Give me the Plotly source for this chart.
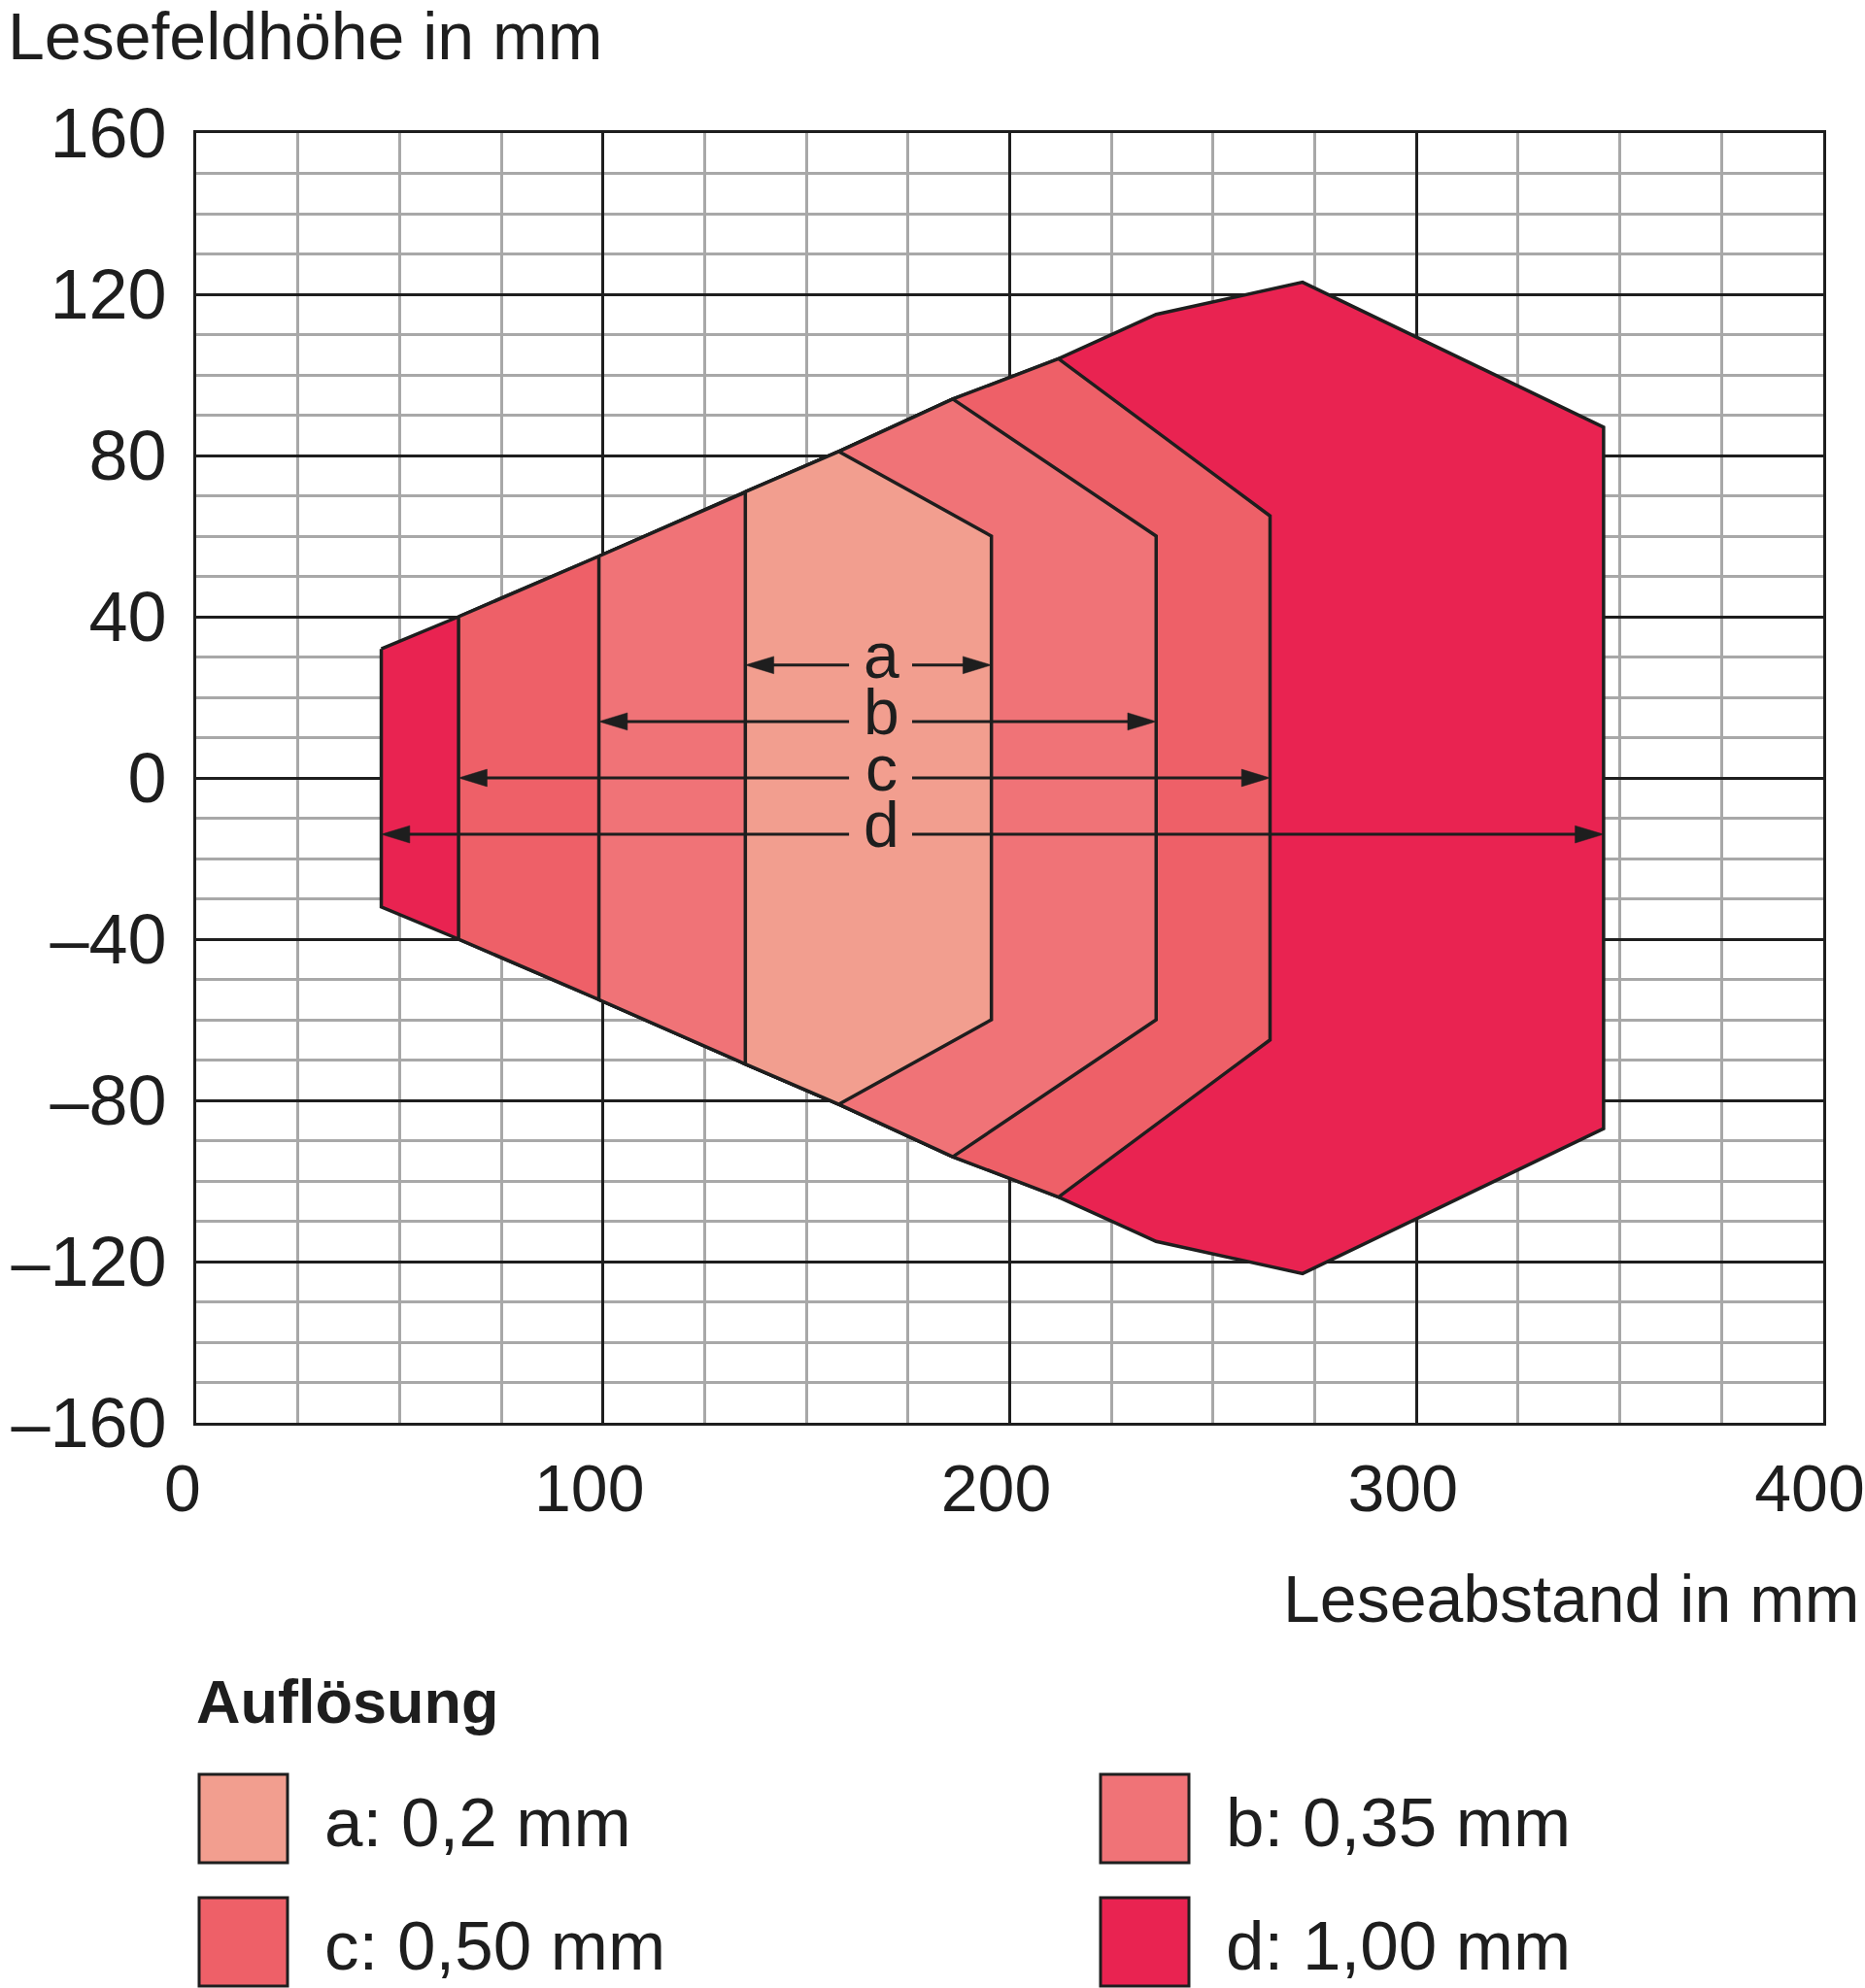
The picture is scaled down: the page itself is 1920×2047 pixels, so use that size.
import plotly.graph_objects as go

# ---------------- data ----------------
# outer envelope (upper half) of the reading field, distance x / height y in mm
env_x = [45.5, 64.5, 99, 135, 158, 186, 212, 236, 272, 346]
env_y = [32, 40, 55, 71, 81, 94, 104, 115, 123, 87]

zone_names = ["a", "b", "c", "d"]
zone_labels = ["a: 0,2 mm", "b: 0,35 mm", "c: 0,50 mm", "d: 1,00 mm"]
zone_colors = ["#F29E8F", "#F07377", "#EE6068", "#E92351"]
# left boundary x of each zone (upper-envelope start)
zone_left = [135, 99, 64.5, 45.5]
# envelope point where the zone's right boundary leaves the envelope
zone_top_x = [158, 186, 212, 346]
zone_top_y = [81, 94, 104, 87]
# inner right boundary (vertical edge)
zone_right_x = [195.5, 236, 264, 346]
zone_right_y = [60, 60, 65, 87]

# dimension arrows
arrow_y = [28, 14, 0, -14]
label_x = 168.5
gap_left, gap_right = 160.5, 176

x_ticks = [0, 100, 200, 300, 400]
y_ticks = [160, 120, 80, 40, 0, -40, -80, -120, -160]
y_ticktext = [str(v) if v >= 0 else "\u2013" + str(-v) for v in y_ticks]

FONT = "Liberation Sans"
INK = "#1e1e1e"

# ---------------- figure ----------------
W, H = 1920, 2047
L, R, T, B = 202, 43, 137, 582
fig = go.Figure()


def zone_polygon(i):
    xl = zone_left[i]
    up = [(x, y) for x, y in zip(env_x, env_y) if xl <= x <= zone_top_x[i]]
    pts = up[:]
    if zone_right_x[i] != zone_top_x[i] or zone_right_y[i] != zone_top_y[i]:
        pts.append((zone_right_x[i], zone_right_y[i]))
    lower = [(x, -y) for x, y in reversed(pts)]
    poly = pts + lower
    xs = [p[0] for p in poly] + [poly[0][0]]
    ys = [p[1] for p in poly] + [poly[0][1]]
    return xs, ys


for i in [3, 2, 1, 0]:
    xs, ys = zone_polygon(i)
    fig.add_trace(go.Scatter(x=xs, y=ys, mode="lines", fill="toself",
                             fillcolor=zone_colors[i],
                             line=dict(color=INK, width=3.5),
                             hoverinfo="skip", showlegend=False))

# arrows
head_len = 7.0   # mm (x units)
head_hw = 2.15   # mm (y units)
for i, name in enumerate(zone_names):
    y = arrow_y[i]
    left = zone_left[i]
    right = zone_right_x[i]
    fig.add_trace(go.Scatter(x=[left + head_len * 0.8, gap_left], y=[y, y], mode="lines",
                             line=dict(color=INK, width=3), hoverinfo="skip", showlegend=False))
    fig.add_trace(go.Scatter(x=[gap_right, right - head_len * 0.8], y=[y, y], mode="lines",
                             line=dict(color=INK, width=3), hoverinfo="skip", showlegend=False))
    for tip, d in [(left, 1), (right, -1)]:
        fig.add_trace(go.Scatter(
            x=[tip, tip + d * head_len, tip + d * head_len, tip],
            y=[y, y + head_hw, y - head_hw, y],
            mode="lines", fill="toself", fillcolor=INK,
            line=dict(color=INK, width=0.5), hoverinfo="skip", showlegend=False))
    fig.add_annotation(x=label_x, y=y, text=name, showarrow=False,
                       xanchor="center", yanchor="middle", yshift=10,
                       font=dict(family=FONT, size=66, color=INK))


def px(xp):
    return (xp - L) / (W - L - R)


def py(yp):
    return (H - B - yp) / (H - T - B)


# axis titles
fig.add_annotation(xref="paper", yref="paper", x=px(6), y=py(37), text="Lesefeldhöhe in mm",
                   showarrow=False, xanchor="left", yanchor="middle",
                   font=dict(family=FONT, size=68, color=INK))
fig.add_annotation(xref="paper", yref="paper", x=px(1916), y=py(1646), text="Leseabstand in mm",
                   showarrow=False, xanchor="right", yanchor="middle",
                   font=dict(family=FONT, size=68, color=INK))

# legend
fig.add_annotation(xref="paper", yref="paper", x=px(200), y=py(1752), text="<b>Auflösung</b>",
                   showarrow=False, xanchor="left", yanchor="middle",
                   font=dict(family=FONT, size=63, color=INK))
box_pos = [(205, 1827), (1133, 1827), (205, 1954), (1133, 1954)]
for i, (bx, by) in enumerate(box_pos):
    fig.add_shape(type="rect", xref="paper", yref="paper",
                  x0=px(bx), x1=px(bx + 91), y0=py(by), y1=py(by + 91),
                  fillcolor=zone_colors[i], line=dict(color=INK, width=3))
    fig.add_annotation(xref="paper", yref="paper", x=px(bx + 127), y=py(by + 49),
                       text=zone_labels[i], showarrow=False, xanchor="left", yanchor="middle",
                       font=dict(family=FONT, size=71, color=INK))

axis_common = dict(showline=True, mirror=True, linecolor=INK, linewidth=3,
                   gridcolor=INK, gridwidth=2.5, ticks="", zeroline=False)
fig.update_xaxes(range=[0, 400], tickvals=x_ticks, ticklabelstandoff=6,
                 ticklabelshift=-14, ticklabeloverflow="allow",
                 tickfont=dict(family=FONT, size=68, color=INK),
                 minor=dict(dtick=25, tick0=0, showgrid=True, gridcolor="#a8a8a8", gridwidth=3),
                 **axis_common)
fig.update_yaxes(range=[-160, 160], tickvals=y_ticks, ticktext=y_ticktext, ticklabelstandoff=13,
                 tickfont=dict(family=FONT, size=72, color=INK),
                 minor=dict(dtick=10, tick0=0, showgrid=True, gridcolor="#a8a8a8", gridwidth=3),
                 **axis_common)

fig.update_layout(width=W, height=H, margin=dict(l=L, r=R, t=T, b=B, autoexpand=False),
                  paper_bgcolor="white", plot_bgcolor="white", showlegend=False)

fig.write_html("out.html")
